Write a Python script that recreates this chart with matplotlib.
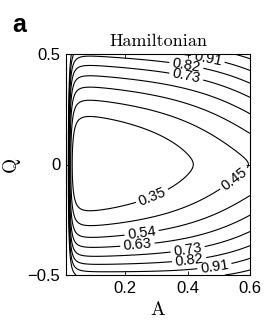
import matplotlib
matplotlib.use('Agg')
import matplotlib.pyplot as plt
import numpy as np

plt.rcParams['font.family'] = 'Liberation Sans'

# contour levels (step ~0.093, as labelled in the figure)
levels = [0.354, 0.447, 0.540, 0.633, 0.727, 0.820, 0.913, 1.006]

# where each inline label sits (level, A, Q)
label_levels = [0.354, 0.447, 0.540, 0.633, 0.727, 0.727, 0.820, 0.820, 0.913, 0.913]
label_A = [0.286, 0.555, 0.254, 0.240, 0.395, 0.400, 0.395, 0.405, 0.462, 0.487]
label_Q = [-0.14, -0.08, -0.328, -0.382, 0.39, -0.39, 0.437, -0.436, 0.45, -0.464]

xticks = [0.2, 0.4, 0.6]
yticks = [-0.5, 0, 0.5]


def hamiltonian(A, Q):
    # smooth surrogate for the energy surface, fitted by eye to the contours
    g = 0.195 + 0.275 * A + 0.249 * A**2 + 7.2e-5 / (A - 0.008)**2
    c = 2.7 - 3.8 * A**2
    m = 2.6 * A**3
    b = 0.55 - 0.9 * A
    return g + c * Q**2 + m * (np.sqrt(Q**2 + 0.03**2) - 0.03) - b * Q**3


a_grid = np.linspace(0.01, 0.6, 400)
q_grid = np.linspace(-0.5, 0.5, 301)
AA, QQ = np.meshgrid(a_grid, q_grid)
H = hamiltonian(AA, QQ)

fig = plt.figure(figsize=(2.66, 3.2), dpi=100)
ax = fig.add_axes([66 / 266, 1 - 275 / 320, 184 / 266, 221 / 320])

cs = ax.contour(AA, QQ, H, levels=levels, colors='k', linewidths=0.8)

# snap every label spot onto its own level line (scaled so A and Q weigh alike)
spots = []
for lev, x, y in zip(label_levels, label_A, label_Q):
    segs = cs.allsegs[levels.index(lev)]
    pts = np.vstack(segs)
    d = ((pts[:, 0] - x) / 0.59) ** 2 + ((pts[:, 1] - y) / 1.0) ** 2
    spots.append(tuple(pts[np.argmin(d)]))
ax.clabel(cs, levels=levels[:7], manual=spots, fmt='%.2f', fontsize=10.5,
          inline=True, inline_spacing=3)

ax.set_xlim(0.01, 0.6)
ax.set_ylim(-0.5, 0.5)
ax.set_xticks(xticks)
ax.set_xticklabels(['0.2', '0.4', '0.6'])
ax.set_yticks(yticks)
ax.set_yticklabels(['\u22120.5', '0', '0.5'])
ax.tick_params(direction='in', top=True, right=True, length=3, width=0.6,
               labelsize=12, pad=4)
for s in ax.spines.values():
    s.set_linewidth(0.8)

ax.set_title('Hamiltonian', fontsize=13, pad=6, family='cmr10')
ax.set_xlabel('A', fontsize=14, family='cmr10')
ax.set_ylabel('Q', fontsize=14, family='cmr10')
ax.xaxis.set_label_coords(0.5, -0.12)
ax.yaxis.set_label_coords(-0.25, 0.5)

fig.text(0.045, 0.9, 'a', fontsize=18, fontweight='bold')

fig.savefig('out.png', dpi=100)
